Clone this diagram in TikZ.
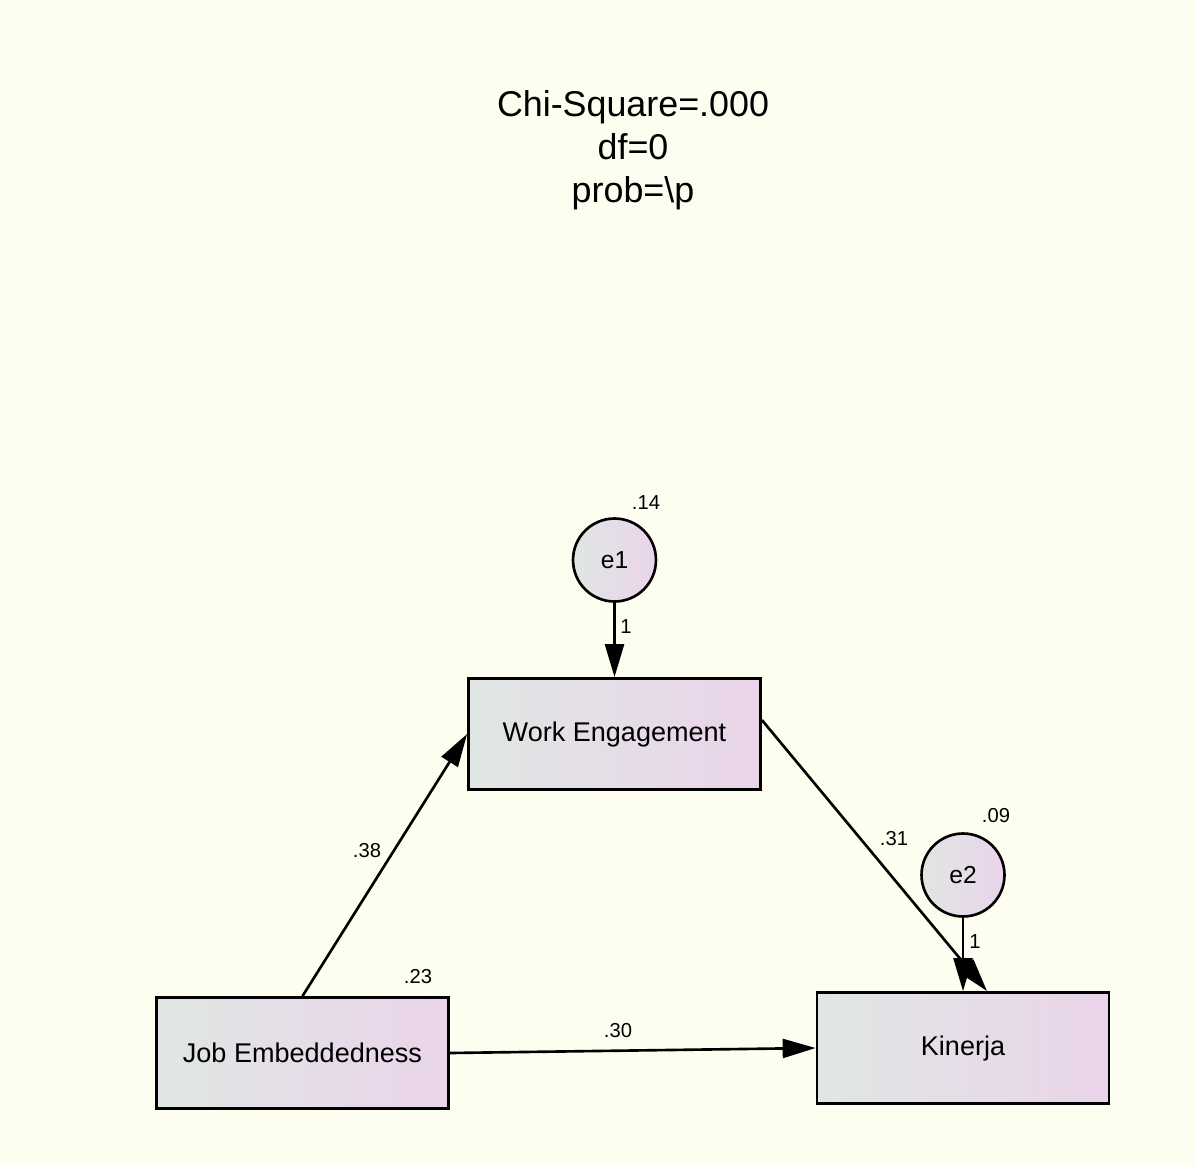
\documentclass[tikz,border=0pt]{standalone}
\usepackage{fontspec}
\setmainfont{Liberation Sans}
\usetikzlibrary{arrows.meta,positioning}
\definecolor{AmosPaper}{RGB}{253,254,240}
\definecolor{AmosGrey}{RGB}{224,230,228}
\definecolor{AmosPink}{RGB}{234,212,234}

\begin{document}
\begin{tikzpicture}[x=0.02cm, y=-0.02cm,
        obs/.style={draw, line width=1.6pt, left color=AmosGrey, right color=AmosPink,
                    minimum width=5.84cm, minimum height=2.22cm, inner sep=0pt,
                    font=\fontsize{15.4}{18}\selectfont},
        err/.style={draw, circle, line width=1.5pt, left color=AmosGrey, right color=AmosPink,
                    minimum size=1.66cm, inner sep=0pt, font=\fontsize{14}{16}\selectfont},
        est/.style={inner sep=0pt, font=\fontsize{11.5}{13}\selectfont},
        arr/.style={-{Triangle[length=0.66cm, width=0.38cm]}, line width=1.5pt}
]
    \useasboundingbox[fill=AmosPaper] (0,0) rectangle (1195,1165);
    \node[align=center, font=\fontsize{20.4}{24.5}\selectfont] (fit) at (633,150)
        {Chi-Square=.000\\df=0\\prob=\textbackslash p};

    \node[obs] (we) at (614.5,734) {Work Engagement};
    \node[obs] (je) at (302.5,1053) {Job Embeddedness};
    \node[obs] (k) at (963,1048) {Kinerja};
    \node[err] (e1) at (614.5,560) {e1};
    \node[err] (e2) at (963,875) {e2};

    \draw[arr] (e1) -- (we);
    \draw[arr] (e2) -- (k);
    \draw[arr] (je.north) -- (we.west);
    \draw[arr] ([yshift=0.28cm]we.east) -- ([xshift=0.48cm]k.north);
    \draw[arr] (je.east) -- (k.west);

    \node[est] (v1) at (646,503) {.14};
    \node[est] (v2) at (996,816) {.09};
    \node[est] (v3) at (418,977) {.23};
    \node[est] (w1) at (626,627) {1};
    \node[est] (w2) at (975,942) {1};
    \node[est] (b1) at (367,851) {.38};
    \node[est] (b2) at (894,839) {.31};
    \node[est] (b3) at (618,1031) {.30};
\end{tikzpicture}
\end{document}
